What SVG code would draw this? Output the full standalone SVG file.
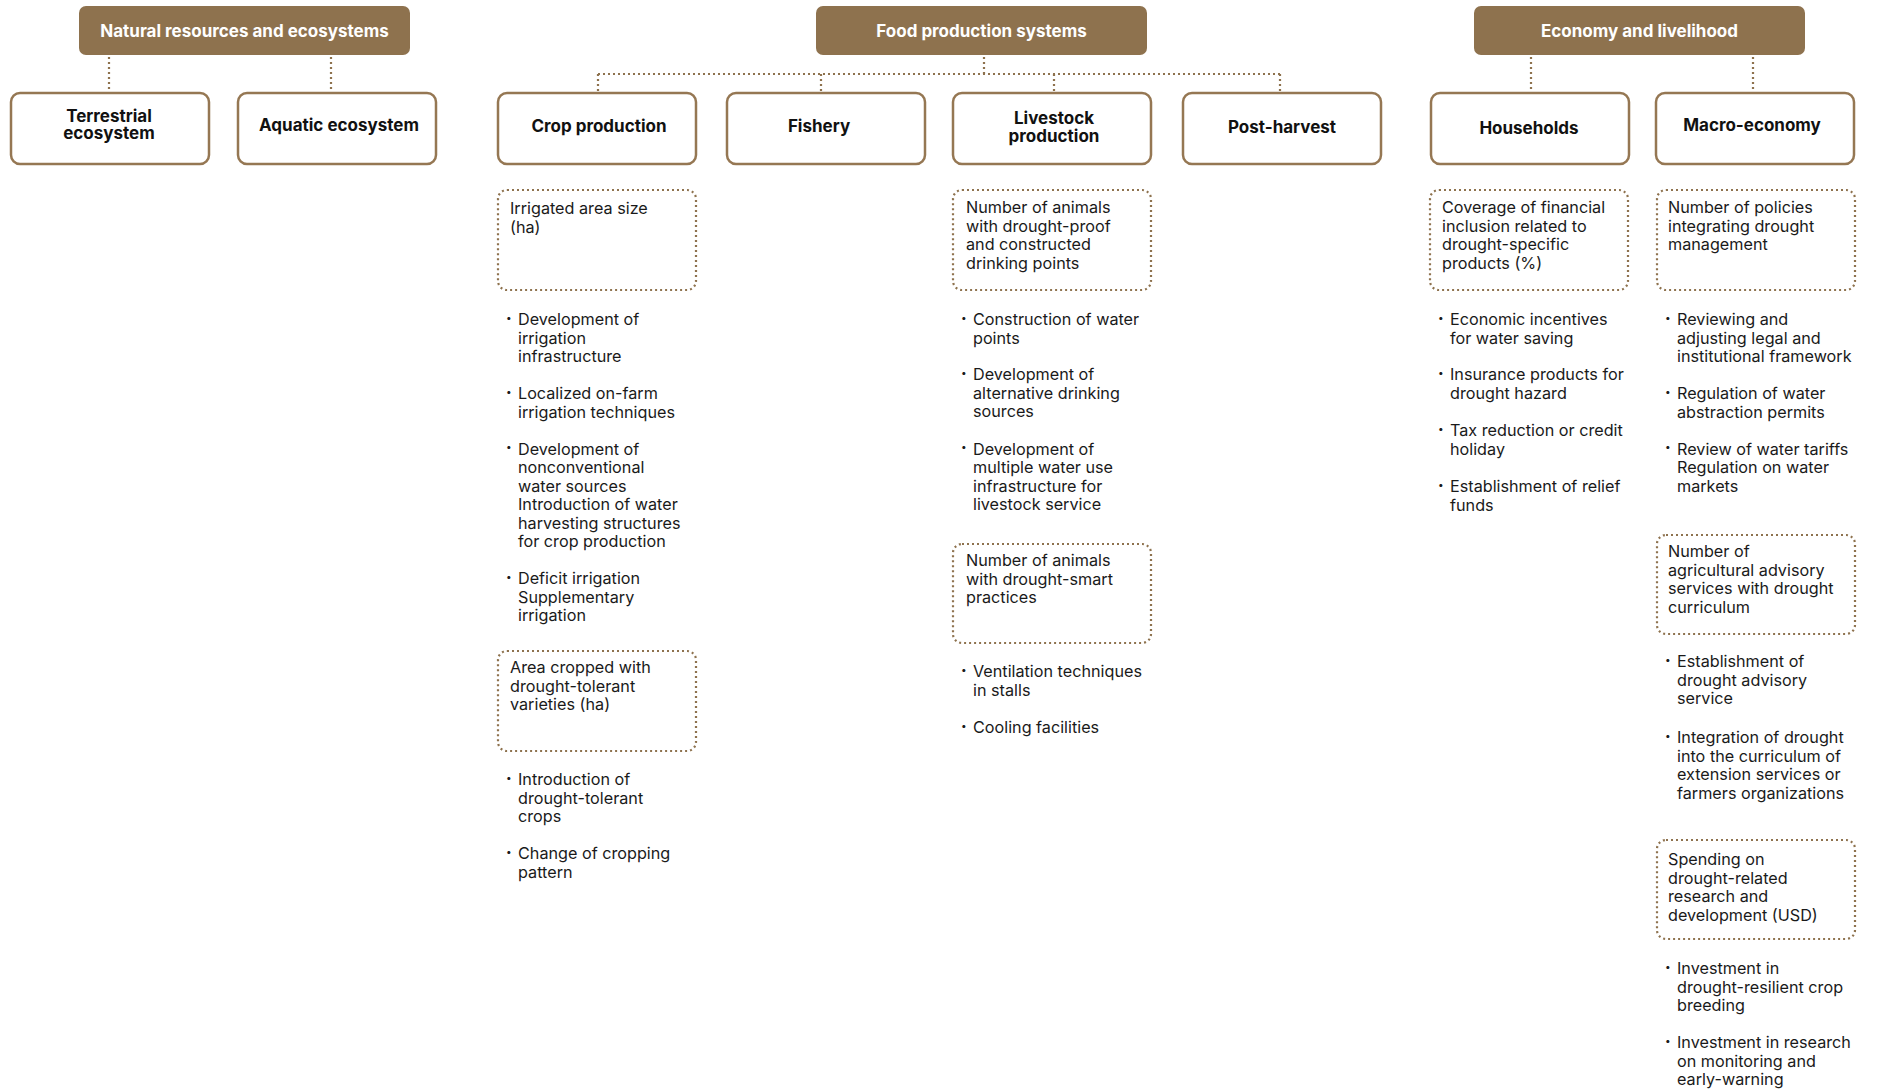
<svg xmlns="http://www.w3.org/2000/svg" width="1878" height="1089" viewBox="0 0 1878 1089">
<style>
.hdr{fill:#8E724E}
.hdrt{font-family:Inter,"Open Sans","Liberation Sans",sans-serif;font-weight:700;font-size:17px;fill:#ffffff;text-anchor:middle}
.box{fill:#ffffff;stroke:#957753;stroke-width:2.5}
.lbl{font-family:Inter,"Open Sans","Liberation Sans",sans-serif;font-weight:700;font-size:17px;fill:#111111;text-anchor:middle}
.ind{fill:none;stroke:#8E724E;stroke-width:2.2;stroke-dasharray:2 3}
.con{fill:none;stroke:#8E724E;stroke-width:2.2;stroke-dasharray:2 3}
.t{font-family:Inter,"Open Sans","Liberation Sans",sans-serif;font-size:16.2px;fill:#1a1a1a}
.b{font-family:Inter,"Open Sans","Liberation Sans",sans-serif;font-size:10px;fill:#1a1a1a}
</style>
<rect width="1878" height="1089" fill="#ffffff"/>

<g id="connectors">
<path class="con" d="M109 57V91M331 57V91"/>
<path class="con" d="M984 57V74M598 74H1280M598 74V91M821 74V91M1054 74V91M1280 74V91"/>
<path class="con" d="M1531 57V91M1753 57V91"/>
</g>

<g id="hdr-natural"><rect class="hdr" x="79" y="6" width="331" height="49" rx="7"/><text class="hdrt" x="244.5" y="36.5">Natural resources and ecosystems</text></g>
<g id="hdr-food"><rect class="hdr" x="816" y="6" width="331" height="49" rx="7"/><text class="hdrt" x="981.5" y="36.5">Food production systems</text></g>
<g id="hdr-economy"><rect class="hdr" x="1474" y="6" width="331" height="49" rx="7"/><text class="hdrt" x="1639.5" y="36.5">Economy and livelihood</text></g>

<g id="node-terrestrial"><rect class="box" x="11" y="93" width="198" height="71" rx="9"/><text class="lbl" x="109" y="122">Terrestrial</text><text class="lbl" x="109" y="139">ecosystem</text></g>
<g id="node-aquatic"><rect class="box" x="238" y="93" width="198" height="71" rx="9"/><text class="lbl" x="339" y="131">Aquatic ecosystem</text></g>
<g id="node-crop"><rect class="box" x="498" y="93" width="198" height="71" rx="9"/><text class="lbl" x="599" y="132">Crop production</text></g>
<g id="node-fishery"><rect class="box" x="727" y="93" width="198" height="71" rx="9"/><text class="lbl" x="819" y="132">Fishery</text></g>
<g id="node-livestock"><rect class="box" x="953" y="93" width="198" height="71" rx="9"/><text class="lbl" x="1054" y="124">Livestock</text><text class="lbl" x="1054" y="142">production</text></g>
<g id="node-postharvest"><rect class="box" x="1183" y="93" width="198" height="71" rx="9"/><text class="lbl" x="1282" y="133">Post-harvest</text></g>
<g id="node-households"><rect class="box" x="1431" y="93" width="198" height="71" rx="9"/><text class="lbl" x="1529" y="134">Households</text></g>
<g id="node-macro"><rect class="box" x="1656" y="93" width="198" height="71" rx="9"/><text class="lbl" x="1752" y="131">Macro-economy</text></g>

<!-- Crop production column -->
<g id="ind-crop-1"><rect class="ind" x="498" y="190" width="198" height="100" rx="9"/>
<text class="t" x="510" y="214">Irrigated area size</text><text class="t" x="510" y="232.5">(ha)</text></g>
<g id="list-crop-1">
<text class="b" x="506" y="321">•</text><text class="t" x="518" y="325">Development of</text><text class="t" x="518" y="343.5">irrigation</text><text class="t" x="518" y="362">infrastructure</text>
<text class="b" x="506" y="395">•</text><text class="t" x="518" y="399">Localized on-farm</text><text class="t" x="518" y="417.5">irrigation techniques</text>
<text class="b" x="506" y="450">•</text><text class="t" x="518" y="454.5">Development of</text><text class="t" x="518" y="473">nonconventional</text><text class="t" x="518" y="491.5">water sources</text><text class="t" x="518" y="510">Introduction of water</text><text class="t" x="518" y="528.5">harvesting structures</text><text class="t" x="518" y="547">for crop production</text>
<text class="b" x="506" y="580">•</text><text class="t" x="518" y="584">Deficit irrigation</text><text class="t" x="518" y="602.5">Supplementary</text><text class="t" x="518" y="621">irrigation</text>
</g>
<g id="ind-crop-2"><rect class="ind" x="498" y="651" width="198" height="100" rx="9"/>
<text class="t" x="510" y="673">Area cropped with</text><text class="t" x="510" y="691.5">drought-tolerant</text><text class="t" x="510" y="710">varieties (ha)</text></g>
<g id="list-crop-2">
<text class="b" x="506" y="781">•</text><text class="t" x="518" y="785">Introduction of</text><text class="t" x="518" y="803.5">drought-tolerant</text><text class="t" x="518" y="822">crops</text>
<text class="b" x="506" y="855">•</text><text class="t" x="518" y="859">Change of cropping</text><text class="t" x="518" y="877.5">pattern</text>
</g>

<!-- Livestock column -->
<g id="ind-livestock-1"><rect class="ind" x="953" y="190" width="198" height="100" rx="9"/>
<text class="t" x="966" y="213">Number of animals</text><text class="t" x="966" y="231.5">with drought-proof</text><text class="t" x="966" y="250">and constructed</text><text class="t" x="966" y="268.5">drinking points</text></g>
<g id="list-livestock-1">
<text class="b" x="961" y="321">•</text><text class="t" x="973" y="325">Construction of water</text><text class="t" x="973" y="343.5">points</text>
<text class="b" x="961" y="376">•</text><text class="t" x="973" y="380">Development of</text><text class="t" x="973" y="398.5">alternative drinking</text><text class="t" x="973" y="417">sources</text>
<text class="b" x="961" y="450">•</text><text class="t" x="973" y="454.5">Development of</text><text class="t" x="973" y="473">multiple water use</text><text class="t" x="973" y="491.5">infrastructure for</text><text class="t" x="973" y="510">livestock service</text>
</g>
<g id="ind-livestock-2"><rect class="ind" x="953" y="544" width="198" height="99" rx="9"/>
<text class="t" x="966" y="566">Number of animals</text><text class="t" x="966" y="584.5">with drought-smart</text><text class="t" x="966" y="603">practices</text></g>
<g id="list-livestock-2">
<text class="b" x="961" y="673">•</text><text class="t" x="973" y="677">Ventilation techniques</text><text class="t" x="973" y="695.5">in stalls</text>
<text class="b" x="961" y="729">•</text><text class="t" x="973" y="733">Cooling facilities</text>
</g>

<!-- Households column -->
<g id="ind-households"><rect class="ind" x="1430" y="190" width="198" height="100" rx="9"/>
<text class="t" x="1442" y="213">Coverage of financial</text><text class="t" x="1442" y="231.5">inclusion related to</text><text class="t" x="1442" y="250">drought-specific</text><text class="t" x="1442" y="268.5">products (%)</text></g>
<g id="list-households">
<text class="b" x="1438" y="321">•</text><text class="t" x="1450" y="325">Economic incentives</text><text class="t" x="1450" y="343.5">for water saving</text>
<text class="b" x="1438" y="376">•</text><text class="t" x="1450" y="380">Insurance products for</text><text class="t" x="1450" y="398.5">drought hazard</text>
<text class="b" x="1438" y="432">•</text><text class="t" x="1450" y="436">Tax reduction or credit</text><text class="t" x="1450" y="454.5">holiday</text>
<text class="b" x="1438" y="488">•</text><text class="t" x="1450" y="492">Establishment of relief</text><text class="t" x="1450" y="510.5">funds</text>
</g>

<!-- Macro-economy column -->
<g id="ind-macro-1"><rect class="ind" x="1657" y="190" width="198" height="100" rx="9"/>
<text class="t" x="1668" y="213">Number of policies</text><text class="t" x="1668" y="231.5">integrating drought</text><text class="t" x="1668" y="250">management</text></g>
<g id="list-macro-1">
<text class="b" x="1665" y="321">•</text><text class="t" x="1677" y="325">Reviewing and</text><text class="t" x="1677" y="343.5">adjusting legal and</text><text class="t" x="1677" y="362">institutional framework</text>
<text class="b" x="1665" y="395">•</text><text class="t" x="1677" y="399">Regulation of water</text><text class="t" x="1677" y="417.5">abstraction permits</text>
<text class="b" x="1665" y="450">•</text><text class="t" x="1677" y="454.5">Review of water tariffs</text><text class="t" x="1677" y="473">Regulation on water</text><text class="t" x="1677" y="491.5">markets</text>
</g>
<g id="ind-macro-2"><rect class="ind" x="1657" y="535" width="198" height="99" rx="9"/>
<text class="t" x="1668" y="557">Number of</text><text class="t" x="1668" y="575.5">agricultural advisory</text><text class="t" x="1668" y="594">services with drought</text><text class="t" x="1668" y="612.5">curriculum</text></g>
<g id="list-macro-2">
<text class="b" x="1665" y="663">•</text><text class="t" x="1677" y="667">Establishment of</text><text class="t" x="1677" y="685.5">drought advisory</text><text class="t" x="1677" y="704">service</text>
<text class="b" x="1665" y="739">•</text><text class="t" x="1677" y="743">Integration of drought</text><text class="t" x="1677" y="761.5">into the curriculum of</text><text class="t" x="1677" y="780">extension services or</text><text class="t" x="1677" y="798.5">farmers organizations</text>
</g>
<g id="ind-macro-3"><rect class="ind" x="1657" y="840" width="198" height="99" rx="9"/>
<text class="t" x="1668" y="865">Spending on</text><text class="t" x="1668" y="883.5">drought-related</text><text class="t" x="1668" y="902">research and</text><text class="t" x="1668" y="920.5">development (USD)</text></g>
<g id="list-macro-3">
<text class="b" x="1665" y="970">•</text><text class="t" x="1677" y="974">Investment in</text><text class="t" x="1677" y="992.5">drought-resilient crop</text><text class="t" x="1677" y="1011">breeding</text>
<text class="b" x="1665" y="1044">•</text><text class="t" x="1677" y="1048">Investment in research</text><text class="t" x="1677" y="1066.5">on monitoring and</text><text class="t" x="1677" y="1085">early-warning</text>
</g>
</svg>
